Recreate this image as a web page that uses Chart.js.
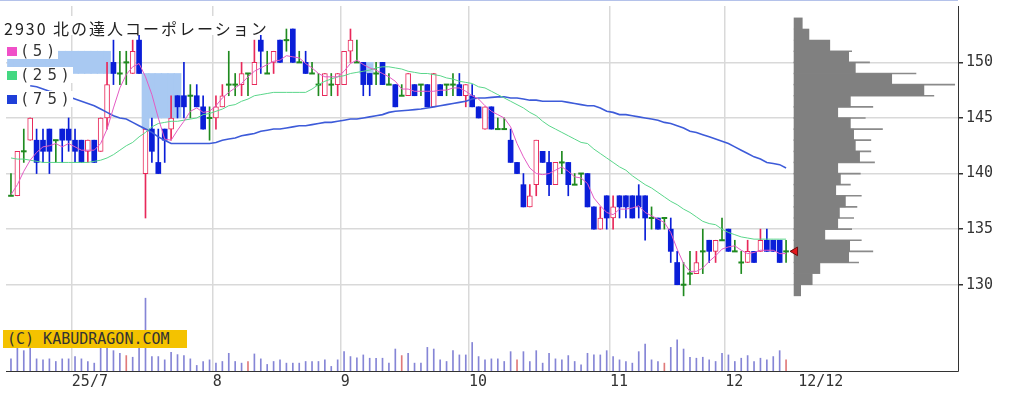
<!DOCTYPE html>
<html>
<head>
<meta charset="utf-8">
<script src="https://cdn.jsdelivr.net/npm/chart.js@4.4.1/dist/chart.umd.min.js"></script>
<style>
  body { margin: 0; background: #fff; }
  #wrap { position: relative; width: 1029px; height: 397px; overflow: hidden; }
  #c { position: absolute; left: 0; top: 0; }
  #topline { position: absolute; left: 0; top: 0; width: 958px; height: 1px; background: #b4c2ea; }
  #title { position: absolute; left: 4px; top: 16px; height: 19px; line-height: 19px; padding-right: 3px;
           background: #fff; color: #222; font: 16px 'Noto Sans CJK JP', sans-serif; letter-spacing: 2px; white-space: nowrap; }
  .leg { position: absolute; left: 5px; height: 16px; display: flex; align-items: center; background: #fff;
         color: #333; font: 15px 'DejaVu Sans', sans-serif; letter-spacing: 5px; white-space: nowrap; }
  .leg i { display: inline-block; width: 10px; height: 9px; margin: 0 5px 0 2px; }
  #logo { position: absolute; left: 3px; top: 330px; width: 184px; height: 18px; line-height: 18px;
          background: #f4c200; color: #333; font: 15px 'DejaVu Sans Mono', monospace; padding-left: 4px; box-sizing: border-box; white-space: nowrap; }
</style>
</head>
<body>
<div id="wrap">
  <canvas id="c" width="1029" height="397"></canvas>
  <div id="topline"></div>
  <div id="title">2930 北の達人コーポレーション</div>
  <div class="leg" style="top:43px"><i style="background:#f050c8"></i>(5)</div>
  <div class="leg" style="top:67px"><i style="background:#44d882"></i>(25)</div>
  <div class="leg" style="top:91px"><i style="background:#1f3fd8"></i>(75)</div>
  <div id="logo">(C) KABUDRAGON.COM</div>
</div>
<script>
// daily prices, 2025/6/17 .. 2025/12/12
const opens = [138,138,142,143,143,143,144,143,144,144, 143,143,142,143,142,145,150,149,150,149,
  152,140,144,141,144,144,147,147,147,147, 146,145,145,146,148,148,148,149,148,152,
  149,150,152,152,153,150,150,149,148,147, 148,148,148,151,150,150,149,149,150,148,
  148,147,147,148,148,148,146,148,148,148, 148,147,147,146,144,146,144,144,143,141,
  139,137,139,142,141,139,141,141,139,140, 140,137,135,138,136,138,138,138,138,138,
  136,136,136,135,132,130,131,131,133,134, 133,134,135,133,132,132,133,133,134,134,
  134,133];
const highs = [140,142,144,145,144,144,144,143,144,145, 144,143,143,143,145,150,152,151,151,152,
  154,144,145,144,144,147,147,150,148,148, 147,146,147,148,151,149,150,149,152,154,
  151,151,152,153,153,151,151,150,149,149, 149,149,151,153,152,150,149,150,150,149,
  148,148,149,148,148,148,149,148,148,149, 149,148,148,146,146,146,145,145,144,141,
  140,139,143,142,142,141,142,141,140,140, 140,137,137,138,138,138,138,138,139,138,
  137,136,136,136,133,132,133,133,135,134, 134,136,135,134,133,134,133,135,135,134,
  134,134];
const lows = [138,138,141,143,140,141,140,141,141,142, 141,141,141,141,142,144,148,148,148,149,
  149,136,141,140,141,143,145,145,145,146, 144,143,144,146,147,147,147,147,148,149,
  149,149,150,151,150,150,149,149,147,147, 147,147,148,150,150,147,147,148,148,148,
  146,147,147,147,147,146,146,147,147,147, 147,146,146,145,144,144,144,144,141,140,
  137,137,138,141,138,139,140,138,139,139, 137,135,135,135,135,136,136,136,136,134,
  135,135,135,132,130,129,130,131,131,132, 132,134,133,133,131,132,132,133,133,133,
  132,132];
const closes = [138,142,142,145,141,142,142,143,143,143, 142,141,143,141,145,148,149,149,150,151,
  149,144,142,140,143,145,146,146,147,146, 144,145,146,147,148,148,149,149,150,151,
  149,151,150,152,150,150,149,149,148,149, 148,149,151,152,150,148,148,149,148,148,
  146,147,149,147,148,146,149,147,148,148, 147,148,146,145,146,144,144,144,141,140,
  137,138,143,141,139,141,141,139,139,140, 137,135,136,136,137,137,137,136,137,136,
  136,135,136,133,130,130,131,132,133,133, 134,134,133,133,132,133,132,134,133,133,
  132,133];
// volume, thousand shares
const volumes = [370,750,620,720,370,340,370,290,370,370, 440,370,290,240,750,720,620,540,470,420,
  800,2220,440,440,340,570,500,470,370,170, 290,340,240,290,540,290,240,290,520,370,
  200,290,340,240,240,240,290,290,290,340, 140,340,590,440,400,490,390,390,390,240,
  670,470,540,240,240,720,670,340,290,620, 490,490,870,440,340,370,370,290,590,340,
  590,290,620,240,540,370,340,470,290,190, 540,490,490,620,440,340,290,240,590,820,
  340,290,240,720,950,670,420,390,420,340, 290,540,490,290,390,470,290,390,340,440,
  620,340];
const volRedDays = [18, 37, 61, 79, 102, 121];

const ma5 = [138.1,139.0,140.2,141.2,141.9,142.4,142.5,142.7,142.4,142.7,
  142.4,142.1,142.1,142.1,142.7,144.0,145.9,147.7,148.9,149.6,
  149.9,148.7,147.1,145.0,143.1,143.0,143.9,144.7,145.6,145.9,
  145.5,145.6,146.1,146.8,147.3,147.7,148.1,148.7,149.2,149.5,
  149.8,150.1,150.2,150.6,150.5,150.4,149.9,149.5,149.0,148.7,
  148.7,148.7,149.2,149.9,150.2,149.8,149.5,149.3,149.0,148.7,
  148.3,147.6,147.6,147.4,147.4,147.4,147.4,147.5,147.5,147.7,
  147.7,147.4,147.0,146.7,146.1,145.6,145.3,145.0,144.2,142.7,
  141.5,140.5,140.0,139.9,140.0,140.3,140.6,140.2,139.7,139.6,
  139.1,137.8,137.1,136.5,136.3,136.8,136.8,136.9,137.1,136.5,
  136.2,135.9,135.6,134.7,133.2,131.9,131.2,131.2,131.5,132.1,
  132.6,133.2,133.4,133.5,133.1,132.8,132.9,133.1,133.1,133.1,
  132.8,132.8];
const ma25 = [141.4,141.3,141.3,141.2,141.1,141.0,141.0,141.0,141.0,141.0,
  141.0,141.0,141.0,141.1,141.2,141.4,141.7,142.1,142.5,142.8,
  143.3,143.7,144.2,144.5,144.6,144.7,144.7,144.8,144.9,145.0,
  145.3,145.4,145.6,145.8,146.1,146.2,146.5,146.7,147.0,147.1,
  147.2,147.3,147.3,147.3,147.3,147.3,147.3,147.6,148.0,148.3,
  148.5,148.7,148.8,149.0,149.1,149.2,149.3,149.5,149.6,149.6,
  149.5,149.4,149.2,149.1,149.0,149.0,148.9,148.8,148.6,148.5,
  148.3,148.2,148.1,147.8,147.7,147.4,147.1,146.8,146.5,146.2,
  145.9,145.5,145.2,144.7,144.3,144.0,143.7,143.4,143.1,142.8,
  142.7,142.2,141.8,141.4,141.0,140.6,140.3,139.8,139.4,139.0,
  138.7,138.3,137.9,137.5,137.2,136.8,136.5,136.1,135.7,135.5,
  135.4,135.0,134.7,134.5,134.3,134.2,134.1,134.1,134.1,134.1,
  134.1,134.1];
const ma75 = [null,null,null,147.9,147.8,147.6,147.4,147.3,147.1,146.9,
  146.7,146.5,146.3,146.1,145.8,145.5,145.2,145.0,144.9,144.6,
  144.3,144.0,143.7,143.3,143.0,142.7,142.7,142.7,142.7,142.7,
  142.7,142.7,142.8,143.0,143.1,143.2,143.4,143.5,143.6,143.8,
  143.9,144.0,144.0,144.1,144.2,144.3,144.3,144.4,144.5,144.6,
  144.6,144.7,144.8,144.9,144.9,145.0,145.1,145.2,145.3,145.5,
  145.6,145.65,145.7,145.75,145.8,145.9,146.0,146.1,146.2,146.3,
  146.4,146.5,146.7,146.8,146.8,146.85,146.9,146.9,146.8,146.8,
  146.7,146.6,146.6,146.5,146.5,146.5,146.5,146.4,146.3,146.2,
  146.1,146.1,145.9,145.6,145.5,145.3,145.3,145.2,145.1,145.0,
  144.9,144.8,144.6,144.5,144.3,144.1,143.8,143.7,143.5,143.3,
  143.1,142.9,142.7,142.4,142.1,141.8,141.5,141.3,141.0,140.9,
  140.8,140.5];

// unfilled price gaps: [first day, last day, low, high]
const gaps = [[0, 15, 149, 151], [21, 21, 144, 149], [22, 26, 145, 149], [55, 56, 149, 150]];

// volume by price (bin from price to price+1), hundred shares
const profileLow = [153,152,151,150,149,148,147,146,145,144,143,142,141,140,139,138,137,136,135,134,133,132,131,130,129];
const profileVol = [830,1500,3600,5500,6170,9830,13070,5670,4400,5670,6000,6170,6600,4400,4670,4200,5170,4570,4400,3100,5600,5500,2600,1830,670];
const profileLinePrice = [151,150,149,148,147,146,145,144,143,142,141,140,139,138,137,136,135,134,133,132];
const profileLineVol = [5800,7600,12270,16170,14070,7930,7170,8900,7730,7730,8100,6670,5670,6770,6330,6000,5800,6770,7930,6500];

const monthTicks = [9.5, 31.5, 51.5, 71.5, 93.5, 111.5, 122.9];
const monthLabels = ['25/7', '8', '9', '10', '11', '12', '12/12'];
const priceTicks = [130, 135, 140, 145, 150];

const UP = '#e8285a', DOWN = '#0a1ed8', FLAT = '#1f8a1f';
function kind(i) {
  if (closes[i] > opens[i]) return 'up';
  if (closes[i] < opens[i]) return 'down';
  return 'flat';
}
const lineCol = { up: UP, down: DOWN, flat: FLAT };

const gapData = [];
gaps.forEach(g => {
  for (let i = g[0]; i <= g[1]; i++) gapData.push({ x: i, y: [g[2], g[3]] });
});
const wickData = closes.map((c, i) => ({ x: i, y: [lows[i], highs[i]] }));
const bodyData = closes.map((c, i) => ({ x: i, y: kind(i) === 'flat' ? [c - 0.06, c + 0.06] : [opens[i], c] }));
const volData = volumes.map((v, i) => ({ x: i, y: v }));
const pts = arr => arr.map((v, i) => ({ x: i, y: v }));

const yMin = 122.24, yMax = 155.07;

new Chart(document.getElementById('c'), {
  type: 'bar',
  data: {
    datasets: [
      { data: gapData, backgroundColor: '#a9c9f2', barThickness: 7, grouped: false, order: 20 },
      { data: volData, yAxisID: 'yv', barThickness: 1, grouped: false, order: 19,
        backgroundColor: ctx => volRedDays.includes(ctx.dataIndex) ? '#e07a7a' : '#8585d6' },
      { data: wickData, barThickness: 1, grouped: false, order: 18,
        backgroundColor: ctx => lineCol[kind(ctx.dataIndex)] },
      { data: bodyData, barThickness: 5, grouped: false, order: 17, borderSkipped: false,
        backgroundColor: ctx => ({ up: '#ffffff', down: DOWN, flat: FLAT })[kind(ctx.dataIndex)],
        borderColor: ctx => lineCol[kind(ctx.dataIndex)],
        borderWidth: ctx => kind(ctx.dataIndex) === 'up' ? 1 : 0 },
      { indexAxis: 'y', xAxisID: 'xp', yAxisID: 'yp', order: 16, grouped: false,
        data: profileLow.map((p, i) => ({ y: p + 0.5, x: profileVol[i] })),
        barPercentage: 1, categoryPercentage: 1, backgroundColor: '#808080' },
      { indexAxis: 'y', xAxisID: 'xp', yAxisID: 'yq', order: 16, grouped: false,
        data: profileLinePrice.map((p, i) => ({ y: p, x: profileLineVol[i] })),
        barThickness: 1, backgroundColor: '#8a8a8a' },
      { type: 'line', data: pts(ma75), borderColor: '#3d5bd9', borderWidth: 1.6, pointRadius: 0, order: 4 },
      { type: 'line', data: pts(ma25), borderColor: '#5ad68a', borderWidth: 1, pointRadius: 0, order: 3 },
      { type: 'line', data: pts(ma5), borderColor: '#e45bc4', borderWidth: 1, pointRadius: 0, order: 2 },
      { type: 'line', data: [{ x: 122.4, y: closes[closes.length - 1] }], showLine: false, order: 0, clip: false,
        pointStyle: 'triangle', rotation: -90, pointRadius: 5, backgroundColor: '#e3161b', borderColor: '#6a1010', borderWidth: 1 }
    ]
  },
  options: {
    responsive: false,
    devicePixelRatio: 1,
    animation: false,
    layout: { padding: 0 },
    plugins: { legend: { display: false }, tooltip: { enabled: false } },
    scales: {
      x: {
        type: 'linear', min: -0.7757, max: 147.84, offset: false,
        afterBuildTicks: s => { s.ticks = monthTicks.map(v => ({ value: v })); },
        afterFit: s => { s.height = 26; s.paddingLeft = 0; s.paddingRight = 0; },
        ticks: { callback: (v, i) => monthLabels[i], autoSkip: false, maxRotation: 0, align: 'start',
                 padding: 2, color: '#333', font: { family: 'DejaVu Sans Mono', size: 15 } },
        grid: { offset: false, drawTicks: false, lineWidth: 1.5,
                color: ctx => ctx.index === 6 ? 'rgba(0,0,0,0)' : '#d9d9d9' },
        border: { color: '#333', width: 1 }
      },
      y: {
        type: 'linear', position: 'right', min: yMin, max: yMax,
        afterBuildTicks: s => { s.ticks = priceTicks.map(v => ({ value: v })); },
        afterFit: s => { s.width = 71; s.paddingTop = 0; s.paddingBottom = 0; },
        ticks: { padding: 3, color: '#333', font: { family: 'DejaVu Sans Mono', size: 15 } },
        grid: { color: '#d9d9d9', lineWidth: 1.5, tickLength: 5, tickColor: '#333' },
        border: { color: '#333', width: 1 }
      },
      yv: { display: false, min: 0, max: 11130 },
      yp: { display: false, min: yMin, max: yMax, offset: false },
      yq: { display: false, min: yMin, max: yMax, offset: false },
      xp: { type: 'linear', display: false, min: -79300, max: 16500, offset: false }
    }
  }
});
</script>
</body>
</html>
